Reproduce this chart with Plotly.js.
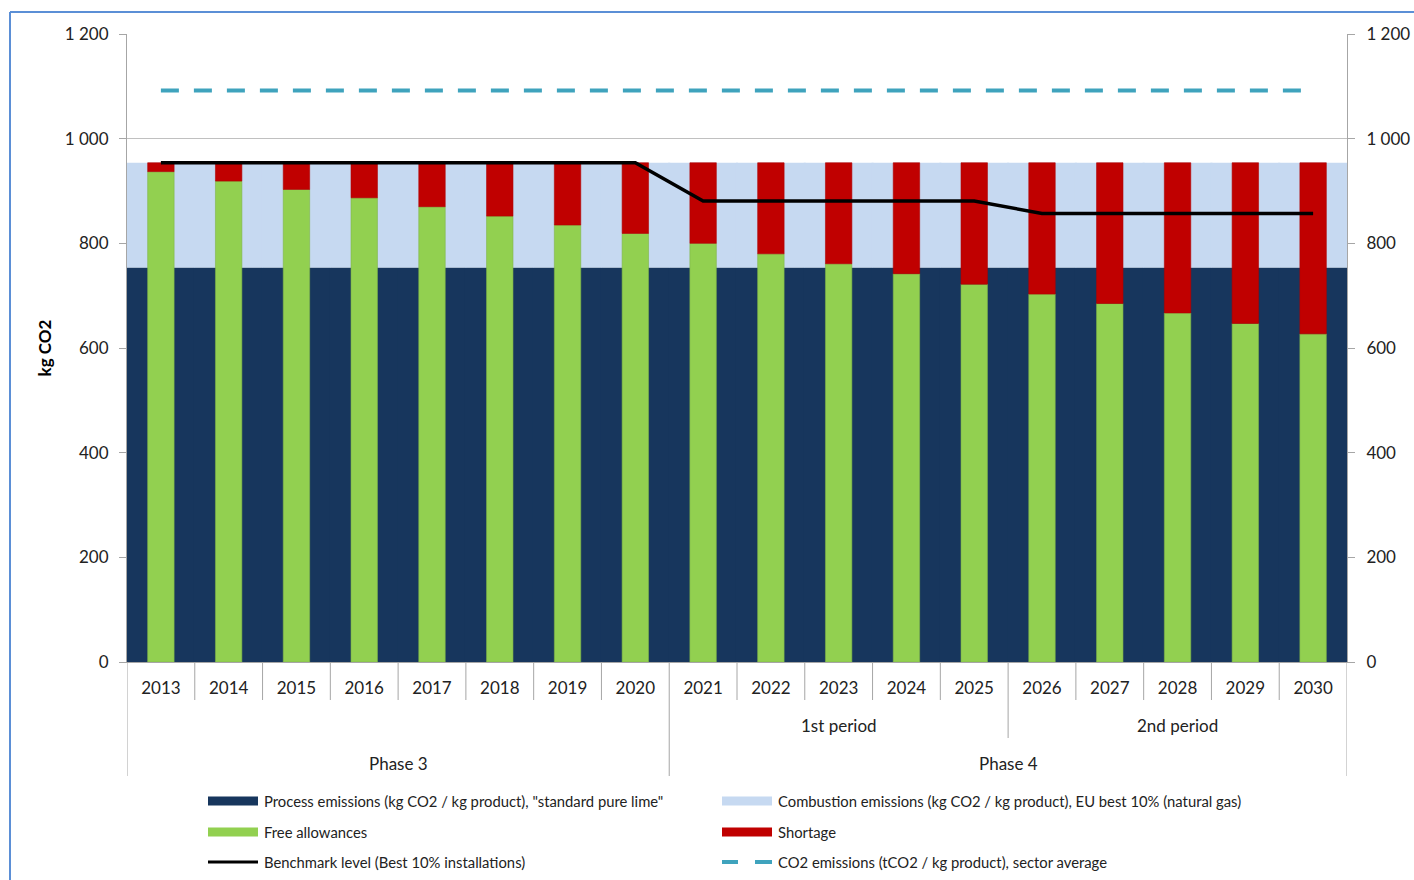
<!DOCTYPE html>
<html>
<head>
<meta charset="utf-8">
<script src="https://cdn.plot.ly/plotly-3.0.1.min.js"></script>
<style>
  html, body { margin: 0; padding: 0; background: #ffffff; }
  #chart { width: 1414px; height: 880px; }
</style>
</head>
<body>
<div id="chart"></div>
<script>
// ---- Data ----
const years = ['2013','2014','2015','2016','2017','2018','2019','2020','2021','2022','2023','2024','2025','2026','2027','2028','2029','2030'];
const processEmissions = [754,754,754,754,754,754,754,754,754,754,754,754,754,754,754,754,754,754];
const combustionEmissions = [200,200,200,200,200,200,200,200,200,200,200,200,200,200,200,200,200,200];
const freeAllowances = [937,919,903,887,870,852,835,819,800,780,761,742,722,703,685,667,647,627];
const shortage = [17,35,51,67,84,102,119,135,154,174,193,212,232,251,269,287,307,327];
const benchmark = [954,954,954,954,954,954,954,954,881,881,881,881,881,857,857,857,857,857];
const sectorAverage = [1092,1092,1092,1092,1092,1092,1092,1092,1092,1092,1092,1092,1092,1092,1092,1092,1092,1092];
const yTickValues = [0,200,400,600,800,1000,1200];

const phases = ['Phase 3','Phase 4'];
const phaseStart = ['2013','2021'];
const phaseEnd = ['2020','2030'];
const periods = ['1st period','2nd period'];
const periodStart = ['2021','2026'];
const periodEnd = ['2025','2030'];

const seriesNames = [
  'Process emissions (kg CO2 / kg product), "standard pure lime"',
  'Combustion emissions (kg CO2 / kg product), EU best 10% (natural gas)',
  'Free allowances',
  'Shortage',
  'Benchmark level (Best 10% installations)',
  'CO2 emissions (tCO2 / kg product), sector average'
];

// ---- Styling ----
const C = {
  navy: '#17365d', light: '#c6d9f1', green: '#92d050', red: '#c00000',
  black: '#000000', teal: '#3fa3bd', axis: '#a6a6a6', grid: '#c0c0c0',
  border: '#5b8fd6', text: '#222222'
};
const FONT = 'Lato, "Open Sans", sans-serif';

// geometry of plot area (pixels)
const L = 127, R = 1347, T = 34, B = 662;
const W = 1414, H = 880;
const px = v => (v - L) / (R - L);
const py = v => (B - v) / (B - T);

const base0 = years.map(() => 0);

const traces = [
  { type: 'bar', name: seriesNames[0], x: years, y: processEmissions, base: base0,
    width: 1.03, marker: { color: C.navy, line: { width: 0 } }, showlegend: false },
  { type: 'bar', name: seriesNames[1], x: years, y: combustionEmissions, base: processEmissions,
    width: 1.03, marker: { color: C.light, line: { width: 0 } }, showlegend: false },
  { type: 'bar', name: seriesNames[2], x: years, y: freeAllowances, base: base0,
    width: 0.39, marker: { color: C.green, line: { width: 0.6, color: '#7fb548' } }, showlegend: false },
  { type: 'bar', name: seriesNames[3], x: years, y: shortage, base: freeAllowances,
    width: 0.39, marker: { color: C.red, line: { width: 0.6, color: '#b00000' } }, showlegend: false },
  { type: 'scatter', mode: 'lines', name: seriesNames[4], x: years, y: benchmark,
    line: { color: C.black, width: 3.5 }, showlegend: false },
  { type: 'scatter', mode: 'lines', name: seriesNames[5], x: years, y: sectorAverage,
    line: { color: C.teal, width: 4, dash: '18px,15px' }, showlegend: false },
  // invisible trace to show the right axis
  { type: 'scatter', mode: 'none', x: years, y: sectorAverage, yaxis: 'y2', showlegend: false, hoverinfo: 'skip' }
];

const shapes = [];
const annotations = [];

// divider lines below the x axis
const idx = y => years.indexOf(y);
const phaseEdges = new Set();
phaseStart.forEach(s => phaseEdges.add(idx(s) - 0.5));
phaseEnd.forEach(e => phaseEdges.add(idx(e) + 0.5));
const periodEdges = new Set();
periodStart.forEach(s => periodEdges.add(idx(s) - 0.5));
for (let i = 0; i <= years.length; i++) {
  const xb = i - 0.5;
  let bottom = 700;
  if (phaseEdges.has(xb)) bottom = 776;
  else if (periodEdges.has(xb)) bottom = 738;
  shapes.push({ type: 'line', xref: 'x', yref: 'paper', x0: xb, x1: xb, y0: 0, y1: py(bottom),
    line: { color: C.axis, width: 1 } });
}

// period and phase labels
periods.forEach((p, k) => {
  annotations.push({ xref: 'x', yref: 'paper', x: (idx(periodStart[k]) + idx(periodEnd[k])) / 2, y: py(725),
    text: p, showarrow: false, font: { family: FONT, size: 17, color: C.text }, xanchor: 'center', yanchor: 'middle' });
});
phases.forEach((p, k) => {
  annotations.push({ xref: 'x', yref: 'paper', x: (idx(phaseStart[k]) + idx(phaseEnd[k])) / 2, y: py(763),
    text: p, showarrow: false, font: { family: FONT, size: 17, color: C.text }, xanchor: 'center', yanchor: 'middle' });
});

// outer frame (top and left edges visible in reference)
shapes.push({ type: 'line', xref: 'paper', yref: 'paper', x0: px(10), x1: px(1420), y0: py(12), y1: py(12),
  line: { color: C.border, width: 2 } });
shapes.push({ type: 'line', xref: 'paper', yref: 'paper', x0: px(10), x1: px(10), y0: py(12), y1: py(890),
  line: { color: C.border, width: 2 } });

// manual legend (Excel-style long swatches)
const legendRows = [801, 832, 862];
const legendCols = [208, 722];
const legendItems = [
  { kind: 'rect', color: C.navy },
  { kind: 'rect', color: C.light },
  { kind: 'rect', color: C.green },
  { kind: 'rect', color: C.red },
  { kind: 'line', color: C.black },
  { kind: 'dash', color: C.teal }
];
legendItems.forEach((it, k) => {
  const row = Math.floor(k / 2), col = k % 2;
  const x0 = legendCols[col], yc = legendRows[row];
  if (it.kind === 'rect') {
    shapes.push({ type: 'rect', xref: 'paper', yref: 'paper', x0: px(x0), x1: px(x0 + 50),
      y0: py(yc - 4.5), y1: py(yc + 4.5), fillcolor: it.color, line: { width: 0 } });
  } else if (it.kind === 'line') {
    shapes.push({ type: 'line', xref: 'paper', yref: 'paper', x0: px(x0), x1: px(x0 + 50),
      y0: py(yc), y1: py(yc), line: { color: it.color, width: 3 } });
  } else {
    shapes.push({ type: 'line', xref: 'paper', yref: 'paper', x0: px(x0), x1: px(x0 + 16),
      y0: py(yc), y1: py(yc), line: { color: it.color, width: 4 } });
    shapes.push({ type: 'line', xref: 'paper', yref: 'paper', x0: px(x0 + 33), x1: px(x0 + 50),
      y0: py(yc), y1: py(yc), line: { color: it.color, width: 4 } });
  }
  annotations.push({ xref: 'paper', yref: 'paper', x: px(x0 + 54), y: py(yc), xanchor: 'left', yanchor: 'middle',
    text: seriesNames[k], showarrow: false, font: { family: FONT, size: 14.8, color: C.text } });
});

const yAxisCommon = {
  range: [0, 1200], tickvals: yTickValues, tickformat: ',d',
  showline: true, linecolor: C.axis, linewidth: 1,
  ticks: 'outside', ticklen: 7, tickcolor: C.axis, tickwidth: 1,
  zeroline: false, fixedrange: true,
  tickfont: { family: FONT, size: 17, color: C.text }
};

const layout = {
  width: W, height: H,
  margin: { l: L, r: W - R, t: T, b: H - B, pad: 0 },
  paper_bgcolor: '#ffffff', plot_bgcolor: '#ffffff',
  separators: '. ',
  barmode: 'overlay',
  showlegend: false,
  font: { family: FONT, color: C.text },
  xaxis: {
    type: 'category', range: [-0.5, years.length - 0.5], showgrid: false,
    showline: true, linecolor: C.axis, linewidth: 1, ticks: '', ticklabelstandoff: 11,
    tickfont: { family: FONT, size: 17, color: C.text }, fixedrange: true
  },
  yaxis: Object.assign({}, yAxisCommon, {
    showgrid: true, gridcolor: C.grid, gridwidth: 1, ticklabelstandoff: 7,
    title: { text: '<b>kg CO2</b>', font: { family: FONT, size: 17, color: '#000' }, standoff: 8 }
  }),
  yaxis2: Object.assign({}, yAxisCommon, {
    overlaying: 'y', side: 'right', showgrid: false, ticklabelstandoff: 8
  }),
  shapes: shapes,
  annotations: annotations
};

Plotly.newPlot('chart', traces, layout, { displayModeBar: false, staticPlot: true });
</script>
</body>
</html>
